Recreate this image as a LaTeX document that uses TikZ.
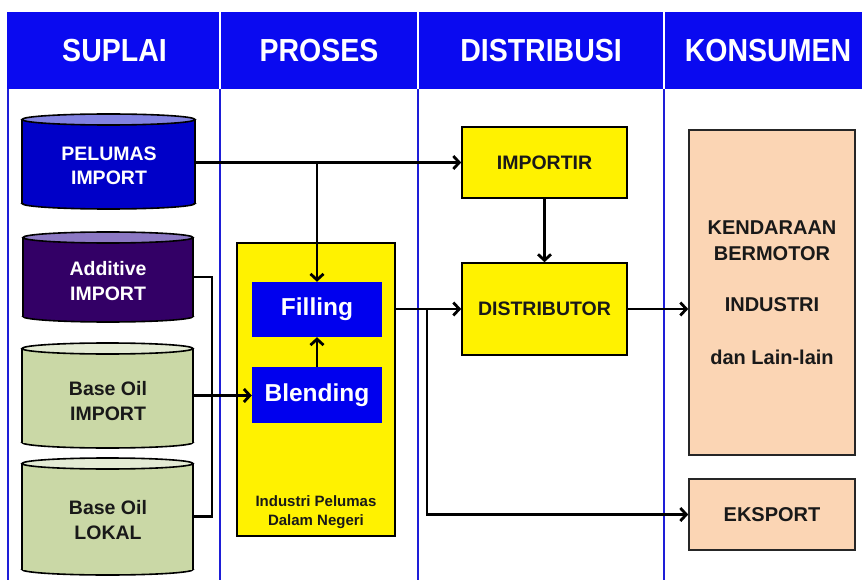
\documentclass[tikz,border=0pt]{standalone}
\usepackage{fontspec}
\usepackage{graphicx}
\setmainfont{Liberation Sans}
\usetikzlibrary{arrows.meta}
\definecolor{hdrblue}{RGB}{10,10,240}
\definecolor{lanelin}{RGB}{30,30,215}
\definecolor{pelblue}{RGB}{0,0,200}
\definecolor{peltop}{RGB}{130,130,225}
\definecolor{addpur}{RGB}{51,0,102}
\definecolor{addtop}{RGB}{140,120,195}
\definecolor{oilgrn}{RGB}{202,216,166}
\definecolor{oiltop}{RGB}{228,235,212}
\definecolor{peach}{RGB}{251,213,180}
\definecolor{boxblue}{RGB}{0,0,238}
\definecolor{darktxt}{RGB}{25,25,25}
\newcommand{\drawcyl}[7]{%
  \pgfmathsetmacro\cylcx{(#1+#2)/2}%
  \pgfmathsetmacro\cylrx{(#2-#1)/2}%
  \pgfmathsetmacro\cylcy{(#3+#4)/2}%
  \pgfmathsetmacro\cylw{#2-#1}%
  \pgfmathsetmacro\cylh{#4-#3}%
  \fill[#5,draw=black,line width=1.6pt] (\cylcx,#4-5.5) ellipse[x radius=\cylrx pt, y radius=5.5pt];
  \fill[#5] (#1,#3+5.5) rectangle (#2,#4-5.5);
  \draw[line width=1.6pt] (#1,#3+5.5) -- (#1,#4-5.5) (#2,#3+5.5) -- (#2,#4-5.5);
  \fill[#6,draw=black,line width=1.6pt] (\cylcx,#3+5.5) ellipse[x radius=\cylrx pt, y radius=5.5pt];
  \node[inner sep=0pt,outer sep=0pt,minimum width=\cylw pt,minimum height=\cylh pt] (#7) at (\cylcx,\cylcy) {};
}
\tikzset{
  hdr/.style={text=white,font=\bfseries\fontsize{28.5}{30}\selectfont,inner sep=0pt},
  cyltxt/.style={align=center,font=\bfseries\fontsize{19.5}{24.5}\selectfont,inner sep=0pt},
  ybox/.style={draw=black,fill=yellow,line width=1.6pt,inner sep=0pt,align=center,font=\bfseries\fontsize{19.5}{22}\selectfont,text=darktxt},
  bbox/.style={fill=boxblue,inner sep=0pt,text=white,font=\bfseries\fontsize{24.5}{26}\selectfont},
  pbox/.style={draw=black!85,fill=peach,line width=1.6pt,inner sep=0pt,align=center,font=\bfseries\fontsize{20}{26}\selectfont,text=darktxt},
  conn/.style={line width=2.8pt,draw=black},
  arr/.style={conn,-{Straight Barb[length=6pt,width=13pt]}},
  lane/.style={draw=lanelin,line width=1.5pt},
}
\begin{document}
\begin{tikzpicture}[x=1pt,y=-1pt]
\useasboundingbox (0,0) rectangle (862,580);
\fill[white] (0,0) rectangle (862,580);
% header
\fill[hdrblue] (7,12) rectangle (862,89);
\foreach \xx in {220,418,664} \draw[white,line width=2pt] (\xx,12) -- (\xx,89);
\node[hdr] (h1) at (114.5,51) {\scalebox{1}[1.12]{SUPLAI}};
\node[hdr] (h2) at (319,51) {\scalebox{1}[1.12]{PROSES}};
\node[hdr] (h3) at (541,51) {\scalebox{1}[1.12]{DISTRIBUSI}};
\node[hdr] (h4) at (768,51) {\scalebox{1}[1.12]{KONSUMEN}};
% lanes
\foreach \xx in {8,220,418,664} \draw[lane] (\xx,89) -- (\xx,580);
% cylinders
\drawcyl{22}{195}{114}{209}{pelblue}{peltop}{pel}
\drawcyl{23}{193}{232}{322}{addpur}{addtop}{add}
\drawcyl{22}{193}{343}{448}{oilgrn}{oiltop}{boi}
\drawcyl{22}{193}{458}{575}{oilgrn}{oiltop}{lok}
\node[cyltxt,text=white] (pelt) at (109,166) {PELUMAS\\IMPORT};
\node[cyltxt,text=white] (addt) at (108,281) {Additive\\IMPORT};
\node[cyltxt,text=darktxt] (boit) at (108,401) {Base Oil\\IMPORT};
\node[cyltxt,text=darktxt] (lokt) at (108,520) {Base Oil\\LOKAL};
% process
\node[ybox,minimum width=158pt,minimum height=293pt] (ind) at (316,389.5) {};
\node[align=center,font=\bfseries\fontsize{15}{19}\selectfont,text=darktxt,inner sep=0pt] (indt) at (316,512) {Industri Pelumas\\Dalam Negeri};
\node[bbox,minimum width=130pt,minimum height=55pt] (fill) at (317,309.5) {Filling};
\node[bbox,minimum width=130pt,minimum height=56pt] (blend) at (317,395) {Blending};
% distribution
\node[ybox,minimum width=165pt,minimum height=71pt] (imp) at (544.5,162.5) {IMPORTIR};
\node[ybox,minimum width=165pt,minimum height=92pt] (dist) at (544.5,309) {DISTRIBUTOR};
% consumers
\node[pbox,minimum width=166pt,minimum height=325pt] (kend) at (772,292.5) {KENDARAAN\\BERMOTOR\\[25pt]INDUSTRI\\[27pt]dan Lain-lain};
\node[pbox,minimum width=166pt,minimum height=71pt] (eks) at (772,514.5) {EKSPORT};
% connectors
\draw[arr] (pel.east |- imp.west) -- (imp.west);
\draw[arr] (imp.west -| fill.north) -- (fill.north);
\draw[conn] (add.east) -- ++(19,0) |- (lok.east);
\draw[arr] (boi.east) -- (boi.east -| blend.west);
\draw[arr] (blend.north) -- (fill.south);
\draw[arr] (ind.east |- dist.west) -- (dist.west);
\coordinate (br) at (427,309);
\draw[arr] (br) |- (eks.west);
\draw[arr] (imp.south) -- (dist.north);
\draw[arr] (dist.east) -- (dist.east -| kend.west);
\end{tikzpicture}
\end{document}
